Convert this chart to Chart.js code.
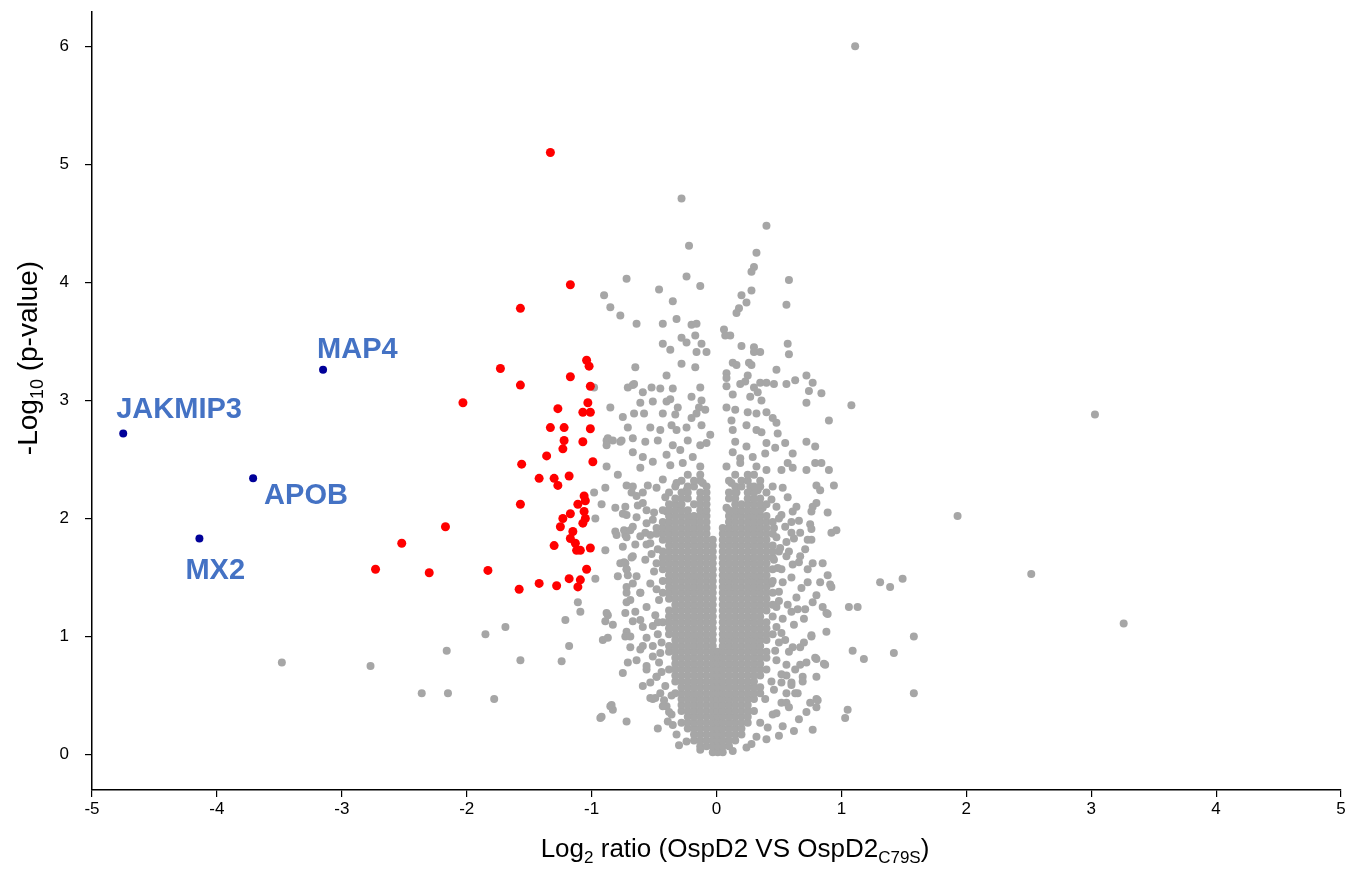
<!DOCTYPE html>
<html>
<head>
<meta charset="utf-8">
<script src="https://cdn.jsdelivr.net/npm/chart.js@4.4.1/dist/chart.umd.min.js"></script>
<style>
html,body{margin:0;padding:0;background:#fff;overflow:hidden;}
canvas{display:block;}
</style>
</head>
<body>
<canvas id="c" width="1367" height="871"></canvas>
<script>
// ---------- DATA ----------
const xTicks = [-5,-4,-3,-2,-1,0,1,2,3,4,5];
const yTicks = [0,1,2,3,4,5,6];

const blueNames = ['JAKMIP3','MAP4','APOB','MX2'];
const blueX = [-4.75,-3.15,-3.71,-4.14];
const blueY = [2.72,3.26,2.34,1.83];

const redPts = [
[-1.33,5.10],[-1.17,3.98],[-1.57,3.78],[-1.73,3.27],[-1.57,3.13],[-2.03,2.98],[-1.17,3.20],[-1.04,3.34],[-1.02,3.29],[-1.01,3.12],
[-1.03,2.98],[-1.27,2.93],[-1.07,2.90],[-1.01,2.90],[-1.33,2.77],[-1.22,2.77],[-1.01,2.76],[-1.22,2.66],[-1.07,2.65],[-1.23,2.59],
[-1.36,2.53],[-1.56,2.46],[-0.99,2.48],[-1.42,2.34],[-1.30,2.34],[-1.18,2.36],[-1.27,2.28],[-1.06,2.19],[-1.05,2.15],[-1.57,2.12],
[-1.11,2.12],[-1.06,2.06],[-1.17,2.04],[-1.23,2.00],[-1.05,2.00],[-1.07,1.96],[-1.25,1.93],[-1.15,1.89],[-1.17,1.83],[-1.13,1.79],
[-1.30,1.77],[-1.12,1.73],[-1.09,1.73],[-1.01,1.75],[-1.83,1.56],[-1.04,1.57],[-1.18,1.49],[-1.09,1.48],[-1.42,1.45],[-1.28,1.43],
[-1.11,1.42],[-1.58,1.40],[-2.17,1.93],[-2.52,1.79],[-2.73,1.57],[-2.30,1.54]
];

const grayScatter = [
[1.11,6.00],[-0.28,4.71],[0.40,4.48],[-0.22,4.31],[0.32,4.25],[0.30,4.13],[0.28,4.09],[-0.72,4.03],[-0.24,4.05],[0.58,4.02],
[-0.46,3.94],[-0.13,3.97],[-0.90,3.89],[0.28,3.93],[-0.35,3.84],[0.20,3.89],[0.24,3.83],[0.56,3.81],[-0.85,3.79],[-0.77,3.72],
[0.18,3.78],[0.16,3.74],[-0.64,3.65],[-0.43,3.65],[-0.32,3.69],[-0.20,3.64],[-0.16,3.65],[0.06,3.60],[0.07,3.55],[0.11,3.55],
[-0.28,3.53],[-0.24,3.49],[-0.17,3.55],[-0.43,3.48],[-0.37,3.43],[-0.12,3.48],[-0.16,3.41],[-0.08,3.41],[0.20,3.46],[0.30,3.45],
[0.30,3.41],[0.35,3.41],[0.57,3.48],[0.58,3.39],[-0.65,3.28],[-0.28,3.31],[-0.17,3.28],[0.13,3.32],[0.16,3.30],[0.26,3.32],
[0.28,3.30],[0.48,3.26],[-0.40,3.21],[0.08,3.23],[0.08,3.19],[0.25,3.21],[0.72,3.21],[0.77,3.15],[0.63,3.17],[0.56,3.14],
[0.46,3.14],[0.35,3.15],[0.40,3.15],[-0.71,3.11],[-0.66,3.14],[-0.52,3.11],[-0.45,3.10],[-0.35,3.10],[-0.13,3.11],[0.08,3.12],
[0.19,3.14],[0.23,3.16],[0.30,3.11],[0.74,3.08],[0.84,3.06],[1.08,2.96],[0.90,2.83],[0.72,2.98],[-0.85,2.94],[-0.75,2.86],
[-0.61,2.98],[-0.66,2.89],[-0.58,2.89],[-0.98,3.11],[-0.59,3.07],[-0.67,3.13],[0.13,3.05],[0.27,3.03],[0.36,3.00],[0.33,3.07],
[-0.51,2.99],[-0.40,2.99],[-0.37,3.01],[-0.31,2.94],[-0.20,3.03],[-0.12,3.00],[-0.14,2.94],[0.08,2.94],[0.15,2.92],[0.25,2.90],
[0.32,2.89],[0.40,2.90],[0.45,2.85],[0.48,2.81],[-0.43,2.89],[-0.33,2.88],[-0.20,2.85],[-0.16,2.89],[-0.09,2.92],[-0.71,2.77],
[-0.53,2.77],[-0.45,2.75],[-0.36,2.79],[-0.32,2.75],[-0.24,2.77],[-0.12,2.79],[-0.05,2.71],[0.12,2.83],[0.13,2.75],[0.24,2.79],
[0.32,2.75],[0.36,2.73],[0.49,2.72],[-0.88,2.66],[-0.77,2.65],[-0.67,2.68],[-0.57,2.65],[-0.47,2.66],[-0.35,2.62],[-0.23,2.66],
[-0.13,2.62],[-0.08,2.64],[0.15,2.65],[0.24,2.61],[0.40,2.64],[0.47,2.60],[0.55,2.64],[0.61,2.55],[0.72,2.65],[0.79,2.61],
[-0.67,2.56],[-0.59,2.52],[-0.40,2.54],[-0.29,2.58],[-0.19,2.52],[0.13,2.56],[0.19,2.51],[0.29,2.52],[0.39,2.55],[-0.88,2.44],
[-0.79,2.37],[-0.61,2.43],[-0.51,2.48],[-0.37,2.45],[-0.27,2.47],[-0.13,2.44],[0.08,2.44],[0.19,2.47],[0.32,2.44],[0.40,2.41],
[0.52,2.41],[0.57,2.47],[0.61,2.43],[0.72,2.41],[0.79,2.47],[0.84,2.47],[0.90,2.41],[-0.89,2.26],[-0.72,2.28],[-0.67,2.27],
[-0.55,2.28],[-0.68,2.22],[-0.59,2.22],[-0.48,2.26],[-0.43,2.33],[-0.32,2.30],[-0.24,2.24],[-0.11,2.30],[0.12,2.30],[0.16,2.22],
[0.27,2.27],[0.33,2.24],[0.45,2.27],[0.53,2.26],[0.57,2.18],[0.80,2.28],[0.83,2.24],[0.94,2.28],[-0.92,2.12],[-0.81,2.09],
[-0.73,2.10],[-0.63,2.11],[-0.72,2.03],[-0.64,2.01],[-0.56,2.07],[-0.51,1.99],[-0.40,2.06],[-0.29,2.10],[-0.21,2.01],[-0.11,2.06],
[0.08,2.09],[0.19,2.05],[0.28,2.01],[0.37,2.09],[0.48,2.10],[0.52,2.03],[0.64,2.10],[0.61,2.06],[0.76,2.06],[0.77,2.10],
[0.89,2.05],[-0.81,1.89],[-0.67,1.93],[-0.57,1.88],[-0.48,1.92],[-0.73,1.86],[-0.89,1.73],[-0.65,1.78],[-0.56,1.78],[0.60,1.88],
[0.67,1.88],[0.75,1.95],[0.73,1.82],[0.92,1.88],[0.96,1.90],[0.56,1.80],[0.48,1.84],
[-0.87,2.68],[-0.88,2.62],[-0.83,2.66],[-0.76,2.66],[-0.98,2.22],[-0.97,2.00],[-0.74,1.90],[-0.80,1.86],[-0.72,1.84],[-0.74,1.63],
[-0.72,1.57],[-0.79,1.51],[-0.97,1.49],[-0.72,1.37],[-0.77,1.62],[-1.11,1.29],[-1.09,1.21],[-1.21,1.14],[-0.87,1.18],[-0.89,1.13],
[-0.83,1.10],[-0.72,1.04],[-1.18,0.92],[-0.91,0.97],[-1.24,0.79],[-0.71,0.78],[-0.75,0.69],[-0.85,0.41],[-0.83,0.38],[-0.93,0.31],
[-0.72,0.28],[-0.47,0.22],[-0.53,0.48],[-0.49,0.48],[-0.40,0.41],[-0.32,0.17],
[-0.68,1.67],[-0.73,1.62],[-0.71,1.52],[-0.67,1.45],[-0.61,1.37],[-0.72,1.29],[-0.65,1.21],[-0.88,1.20],[-0.67,1.13],[-0.59,1.08],
[-0.73,1.00],[-0.56,0.99],[-0.69,0.91],[-0.61,0.89],[-0.51,0.83],[-0.56,0.72],[-0.53,0.61],[-0.48,0.66],[-0.41,0.58],[-0.51,0.47],
[-0.43,0.41],[-0.36,0.34],[-0.35,0.25],[-0.24,0.11],[-0.13,0.04],[0.13,0.03],[0.24,0.06],[0.32,0.15],[0.40,0.13],[0.41,0.23],
[0.53,0.24],[0.35,0.27],[0.52,0.44],[0.56,0.52],[0.52,0.61],[0.69,0.66],[0.72,0.36],[0.77,0.21],[0.75,0.44],[0.80,0.40],
[0.80,0.47],[0.60,0.59],[0.65,0.52],[0.69,0.62],[0.79,0.82],[0.87,0.76],[0.67,0.76],[0.72,0.78],[0.56,0.76],[0.61,0.91],
[0.67,0.91],[0.55,0.97],[0.52,1.03],[0.76,1.00],[0.88,1.04],[0.60,1.21],[0.65,1.23],[0.77,1.29],[0.88,1.20],[0.85,1.25],
[0.73,1.46],[0.83,1.46],[0.91,1.44],[0.89,1.52],[0.77,1.62],[0.85,1.62],[0.53,1.46],[0.61,1.61],[0.56,1.68],[0.67,1.68],
[0.45,1.17],[0.48,1.08],
[0.80,2.13],[0.60,1.97],[0.76,1.91],[0.76,1.82],[0.92,1.42],[1.31,1.46],[1.39,1.42],[1.49,1.49],[1.06,1.25],[1.13,1.25],
[0.80,1.35],[0.89,1.19],[0.71,1.23],[0.64,1.33],[0.76,1.01],[1.09,0.88],[1.18,0.81],[1.42,0.86],[0.80,0.81],[0.86,0.77],
[0.80,0.66],[0.56,0.67],[0.60,0.61],[0.63,0.52],[0.81,0.46],[1.05,0.38],[1.03,0.31],[0.56,0.44],[1.58,1.00],[1.58,0.52],
[1.93,2.02],[2.52,1.53],[3.03,2.88],[3.26,1.11],
[-3.48,0.78],[-2.77,0.75],[-2.36,0.52],[-2.15,0.52],[-2.16,0.88],[-1.85,1.02],[-1.69,1.08],[-1.78,0.47],[-1.57,0.80],[-0.92,0.32],
[-0.84,0.42],[-0.87,0.99],
[-0.46,1.31],[-0.50,1.55],[-0.47,1.12],[-0.44,0.95],[-0.52,1.70],[-0.46,0.78],[0.50,1.38],[0.49,1.58],[0.47,0.88],[0.44,0.62],
[0.46,1.92],[-0.53,1.86],[-0.36,0.50],[0.39,0.47],[-0.41,2.18],[0.44,2.16],[-0.30,0.08],[0.28,0.09],[0.45,0.34],[-0.39,0.28],
[-0.64,2.19],[-0.59,2.13],[-0.75,2.04],[-0.56,1.96],[-0.69,1.90],[-0.61,1.85],[-0.53,1.79],[-0.75,1.76],[-0.67,1.68],[-0.57,1.65],
[-0.72,1.57],[-0.64,1.51],[-0.53,1.45],[-0.72,1.42],[-0.61,1.37],[-0.69,1.31],[-0.56,1.25],[-0.73,1.20],[-0.61,1.14],[-0.51,1.09],
[-0.69,1.00],[-0.59,0.92],[-0.51,0.92],[-0.64,0.80],[-0.56,0.75],[-0.48,0.66],[-0.59,0.58],[-0.45,0.52],
[-0.50,2.05],[-0.47,1.74],[-0.48,1.40],[-0.49,1.18],[-0.47,1.02],[-0.45,0.86],[-0.44,0.70],[-0.42,0.46],[-0.38,0.36],
[0.50,2.00],[0.55,1.93],[0.62,1.83],[0.51,1.75],[0.58,1.72],[0.66,1.63],[0.52,1.57],[0.60,1.50],[0.68,1.41],[0.50,1.30],
[0.57,1.27],[0.70,1.15],[0.53,1.15],[0.62,1.10],[0.50,0.95],[0.58,0.87],[0.70,0.95],[0.48,0.80],[0.63,0.72],[0.52,0.68],
[0.46,0.55],[0.58,0.40],[0.48,0.35],[0.66,0.30],[0.50,0.16],[0.62,0.20],[0.44,1.45],[0.46,1.65],[0.48,1.25],[0.66,1.98],
[0.71,1.74],[0.73,1.57]
];

// dense core of the cloud: each row is [y, x values]
const grayCoreRows = [
[0.02,[-0.03,0.01,0.05]],
[0.07,[-0.13,-0.08,-0.03,0.01,0.05,0.10]],
[0.12,[-0.18,-0.13,-0.08,-0.03,0.01,0.05,0.10,0.15]],
[0.17,[-0.18,-0.13,-0.08,-0.03,0.01,0.05,0.10,0.15,0.20]],
[0.22,[-0.23,-0.18,-0.13,-0.08,-0.03,0.01,0.05,0.10,0.15,0.20]],
[0.27,[-0.28,-0.23,-0.18,-0.13,-0.08,-0.03,0.01,0.05,0.10,0.15,0.20,0.25]],
[0.32,[-0.23,-0.18,-0.13,-0.08,-0.03,0.01,0.05,0.10,0.15,0.20,0.25]],
[0.37,[-0.28,-0.23,-0.18,-0.13,-0.08,-0.03,0.01,0.05,0.10,0.15,0.20,0.25,0.30]],
[0.42,[-0.28,-0.23,-0.18,-0.13,-0.08,-0.03,0.01,0.05,0.10,0.15,0.20,0.25]],
[0.47,[-0.28,-0.23,-0.18,-0.13,-0.08,-0.03,0.01,0.05,0.10,0.15,0.20,0.25,0.30]],
[0.52,[-0.33,-0.28,-0.23,-0.18,-0.13,-0.08,-0.03,0.01,0.05,0.10,0.15,0.20,0.25,0.30,0.35]],
[0.57,[-0.28,-0.23,-0.18,-0.13,-0.08,-0.03,0.01,0.05,0.10,0.15,0.20,0.25,0.30,0.35]],
[0.62,[-0.33,-0.28,-0.23,-0.18,-0.13,-0.08,-0.03,0.01,0.05,0.10,0.15,0.20,0.25,0.30]],
[0.67,[-0.33,-0.28,-0.23,-0.18,-0.13,-0.08,-0.03,0.01,0.05,0.10,0.15,0.20,0.25,0.30,0.35]],
[0.72,[-0.38,-0.33,-0.28,-0.23,-0.18,-0.13,-0.08,-0.03,0.01,0.05,0.10,0.15,0.20,0.25,0.30,0.35,0.40]],
[0.77,[-0.33,-0.28,-0.23,-0.18,-0.13,-0.08,-0.03,0.01,0.05,0.10,0.15,0.20,0.25,0.30,0.35]],
[0.82,[-0.33,-0.28,-0.23,-0.18,-0.13,-0.08,-0.03,0.01,0.05,0.10,0.15,0.20,0.25,0.30,0.35,0.40]],
[0.87,[-0.38,-0.33,-0.28,-0.23,-0.18,-0.13,-0.08,-0.03,0.01,0.05,0.10,0.15,0.20,0.25,0.30,0.35,0.40]],
[0.92,[-0.38,-0.33,-0.28,-0.23,-0.18,-0.13,-0.08,-0.03,0.05,0.10,0.15,0.20,0.25,0.30,0.35]],
[0.97,[-0.33,-0.28,-0.23,-0.18,-0.13,-0.08,-0.03,0.05,0.10,0.15,0.20,0.25,0.30,0.35,0.40]],
[1.02,[-0.38,-0.33,-0.28,-0.23,-0.18,-0.13,-0.08,-0.03,0.05,0.10,0.15,0.20,0.25,0.30,0.35,0.40,0.45]],
[1.07,[-0.38,-0.33,-0.28,-0.23,-0.18,-0.13,-0.08,-0.03,0.05,0.10,0.15,0.20,0.25,0.30,0.35,0.40]],
[1.12,[-0.43,-0.38,-0.33,-0.28,-0.23,-0.18,-0.13,-0.08,-0.03,0.05,0.10,0.15,0.20,0.25,0.30,0.35,0.40]],
[1.17,[-0.38,-0.33,-0.28,-0.23,-0.18,-0.13,-0.08,-0.03,0.05,0.10,0.15,0.20,0.25,0.30,0.35]],
[1.22,[-0.38,-0.33,-0.28,-0.23,-0.18,-0.13,-0.08,-0.03,0.05,0.10,0.15,0.20,0.25,0.30,0.35,0.40]],
[1.27,[-0.33,-0.28,-0.23,-0.18,-0.13,-0.08,-0.03,0.05,0.10,0.15,0.20,0.25,0.30,0.35,0.40,0.45]],
[1.32,[-0.38,-0.33,-0.28,-0.23,-0.18,-0.13,-0.08,-0.03,0.05,0.10,0.15,0.20,0.25,0.30,0.35,0.40]],
[1.37,[-0.43,-0.38,-0.33,-0.28,-0.23,-0.18,-0.13,-0.08,-0.03,0.05,0.10,0.15,0.20,0.25,0.30,0.35,0.40,0.45]],
[1.42,[-0.38,-0.33,-0.28,-0.23,-0.18,-0.13,-0.08,-0.03,0.05,0.10,0.15,0.20,0.25,0.30,0.35,0.40]],
[1.47,[-0.43,-0.38,-0.33,-0.28,-0.23,-0.18,-0.13,-0.08,-0.03,0.05,0.10,0.15,0.20,0.25,0.30,0.35,0.40,0.45]],
[1.52,[-0.38,-0.33,-0.28,-0.23,-0.18,-0.13,-0.08,-0.03,0.05,0.10,0.15,0.20,0.25,0.30,0.35,0.40]],
[1.57,[-0.43,-0.38,-0.33,-0.28,-0.23,-0.18,-0.13,-0.08,-0.03,0.05,0.10,0.15,0.20,0.25,0.30,0.35,0.40,0.45]],
[1.62,[-0.48,-0.43,-0.38,-0.33,-0.28,-0.23,-0.18,-0.13,-0.08,-0.03,0.05,0.10,0.15,0.20,0.25,0.30,0.35,0.40]],
[1.67,[-0.43,-0.38,-0.33,-0.28,-0.23,-0.18,-0.13,-0.08,-0.03,0.05,0.10,0.15,0.20,0.25,0.30,0.35,0.40,0.45]],
[1.72,[-0.43,-0.38,-0.33,-0.28,-0.23,-0.18,-0.13,-0.08,-0.03,0.05,0.10,0.15,0.20,0.25,0.30,0.35,0.40,0.45,0.50]],
[1.77,[-0.38,-0.33,-0.28,-0.23,-0.18,-0.13,-0.08,-0.03,0.05,0.10,0.15,0.20,0.25,0.30,0.35,0.40,0.45]],
[1.82,[-0.43,-0.38,-0.33,-0.28,-0.23,-0.18,-0.13,-0.08,-0.03,0.05,0.10,0.15,0.20,0.25,0.30,0.35,0.40]],
[1.87,[-0.48,-0.43,-0.38,-0.33,-0.28,-0.23,-0.18,-0.13,-0.08,0.05,0.10,0.15,0.20,0.25,0.30,0.35,0.40,0.45]],
[1.92,[-0.43,-0.38,-0.33,-0.28,-0.23,-0.18,-0.13,-0.08,0.05,0.10,0.15,0.20,0.25,0.30,0.35,0.40]],
[1.97,[-0.43,-0.38,-0.33,-0.28,-0.23,-0.18,-0.13,-0.08,0.10,0.15,0.20,0.25,0.30,0.35,0.40,0.45]],
[2.02,[-0.38,-0.33,-0.28,-0.23,-0.18,-0.13,-0.08,0.10,0.15,0.20,0.25,0.30,0.35,0.40]],
[2.07,[-0.43,-0.38,-0.33,-0.28,-0.23,-0.13,-0.08,0.10,0.15,0.20,0.25,0.30,0.35]],
[2.12,[-0.38,-0.33,-0.28,-0.18,-0.13,-0.08,0.15,0.20,0.25,0.30,0.35,0.40]],
[2.17,[-0.33,-0.28,-0.23,-0.13,-0.08,0.10,0.15,0.25,0.30,0.35]],
[2.22,[-0.38,-0.28,-0.23,-0.13,-0.08,0.10,0.15,0.25,0.30,0.40]],
[2.27,[-0.33,-0.23,-0.18,-0.08,0.15,0.20,0.30,0.35]],
[2.32,[-0.28,-0.18,-0.13,0.10,0.20,0.25,0.35]],
[2.37,[-0.23,-0.13,0.15,0.25,0.30]]
];

const xTitleParts = [['Log',0],['2',1],[' ratio (OspD2 VS OspD2',0],['C79S',1],[')',0]];
const yTitleParts = [['-Log',0],['10',1],[' (p-value)',0]];

// ---------- BUILD ----------
const FONT = '"Liberation Sans", Arial, Helvetica, sans-serif';
const grayData = grayScatter.map(p => ({x:p[0], y:p[1]}));
grayCoreRows.forEach(r => r[1].forEach(x => grayData.push({x:x, y:r[0]})));
const redData = redPts.map(p => ({x:p[0], y:p[1]}));
const blueData = blueX.map((x,i) => ({x:x, y:blueY[i]}));

const labelOffsets = [[-7,-15],[-6,-12],[11,26],[-14,40]];

function drawRich(ctx, parts, cx, y, size, subSize, drop){
  let w = 0;
  parts.forEach(p => { ctx.font = (p[1]?subSize:size)+'px '+FONT; w += ctx.measureText(p[0]).width; });
  let x = cx - w/2;
  ctx.textAlign = 'left'; ctx.textBaseline = 'alphabetic';
  parts.forEach(p => {
    ctx.font = (p[1]?subSize:size)+'px '+FONT;
    ctx.fillText(p[0], x, y + (p[1]?drop:0));
    x += ctx.measureText(p[0]).width;
  });
}

const annotPlugin = {
  id:'annot',
  afterDraw(chart){
    const ctx = chart.ctx;
    const xs = chart.scales.x, ys = chart.scales.y;
    ctx.save();
    ctx.fillStyle = '#4472C4';
    ctx.font = 'bold 29px '+FONT;
    ctx.textAlign = 'left'; ctx.textBaseline = 'alphabetic';
    blueNames.forEach((n,i) => {
      const px = xs.getPixelForValue(blueX[i]) + labelOffsets[i][0];
      const py = ys.getPixelForValue(blueY[i]) + labelOffsets[i][1];
      ctx.fillText(n, px, py);
    });
    ctx.fillStyle = '#000';
    drawRich(ctx, xTitleParts, 735, 857, 26, 17, 6);
    ctx.translate(37, 358);
    ctx.rotate(-Math.PI/2);
    drawRich(ctx, yTitleParts, 0, 0, 28, 18, 6);
    ctx.restore();
  }
};

new Chart(document.getElementById('c'), {
  type:'scatter',
  data:{ datasets:[
    {label:'labelled', data:blueData, backgroundColor:'#000099', pointRadius:4, pointBorderWidth:0, order:1},
    {label:'significant', data:redData, backgroundColor:'#FF0000', pointRadius:4.5, pointBorderWidth:0, order:2},
    {label:'all', data:grayData, backgroundColor:'#A6A6A6', pointRadius:4, pointBorderWidth:0, order:3}
  ]},
  options:{
    responsive:false, animation:false, devicePixelRatio:1,
    layout:{padding:{left:0,right:26,top:12,bottom:0}},
    plugins:{legend:{display:false}, tooltip:{enabled:false}},
    elements:{point:{hoverRadius:4}},
    scales:{
      x:{
        type:'linear', min:-5, max:5,
        afterBuildTicks: s => { s.ticks = xTicks.map(v => ({value:v})); },
        afterFit: s => { s.height = 81; s.paddingLeft = 0; s.paddingRight = 0; },
        grid:{display:true, drawOnChartArea:false, drawTicks:true, tickLength:7, color:'#000', lineWidth:1.2},
        border:{display:true, color:'#000', width:1.5},
        ticks:{color:'#000', font:{size:17, family:FONT}, padding:2, maxRotation:0, autoSkip:false, callback:v => String(v)}
      },
      y:{
        type:'linear', min:-0.3, max:6.29,
        afterBuildTicks: s => { s.ticks = yTicks.map(v => ({value:v})); },
        afterFit: s => { s.width = 92; s.paddingTop = 0; s.paddingBottom = 0; },
        grid:{display:true, drawOnChartArea:false, drawTicks:true, tickLength:7, color:'#000', lineWidth:1.2},
        border:{display:true, color:'#000', width:1.5},
        ticks:{color:'#000', font:{size:17, family:FONT}, padding:16, autoSkip:false, callback:v => String(v)}
      }
    }
  },
  plugins:[annotPlugin]
});
</script>
</body>
</html>
